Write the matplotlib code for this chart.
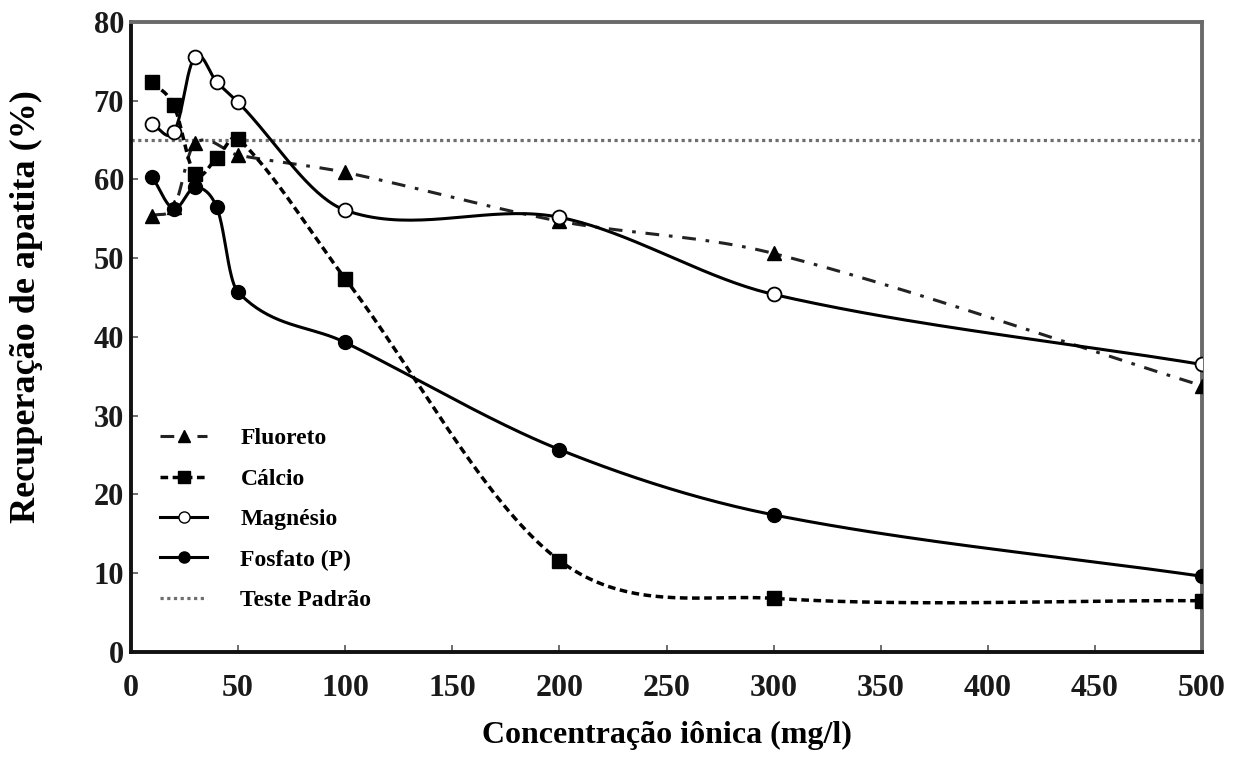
import numpy as np
import matplotlib
matplotlib.use("Agg")
import matplotlib.pyplot as plt
from matplotlib.lines import Line2D

plt.rcParams['font.family'] = ['Liberation Serif', 'DejaVu Serif']
plt.rcParams['font.weight'] = 'bold'

# ---- data ----
fluor_x = [10, 20, 30, 50, 100, 200, 300, 500]
fluor_y = [55.4, 56.5, 64.6, 63.1, 60.9, 54.7, 50.6, 33.8]

calc_x = [10, 20, 30, 40, 50, 100, 200, 300, 500]
calc_y = [72.4, 69.4, 60.7, 62.7, 65.2, 47.4, 11.6, 6.8, 6.5]

mag_x = [10, 20, 30, 40, 50, 100, 200, 300, 500]
mag_y = [67.0, 66.0, 75.6, 72.4, 69.8, 56.1, 55.2, 45.4, 36.5]

fosf_x = [10, 20, 30, 40, 50, 100, 200, 300, 500]
fosf_y = [60.3, 56.3, 59.0, 56.5, 45.7, 39.3, 25.7, 17.4, 9.6]

padrao_y = 65

x_ticks = [0, 50, 100, 150, 200, 250, 300, 350, 400, 450, 500]
y_ticks = [0, 10, 20, 30, 40, 50, 60, 70, 80]

series_names = ["Fluoreto", "Cálcio", "Magnésio", "Fosfato (P)", "Teste Padrão"]
x_label = "Concentração iônica (mg/l)"
y_label = "Recuperação de apatita (%)"


def smooth(xs, ys, n=40, tension=0.5):
    """Catmull-Rom style smoothing (like spreadsheet smoothed lines)."""
    xs = np.asarray(xs, float)
    ys = np.asarray(ys, float)
    px = np.concatenate([[2 * xs[0] - xs[1]], xs, [2 * xs[-1] - xs[-2]]])
    py = np.concatenate([[2 * ys[0] - ys[1]], ys, [2 * ys[-1] - ys[-2]]])
    out_x, out_y = [], []
    for i in range(1, len(px) - 2):
        p0 = np.array([px[i - 1], py[i - 1]])
        p1 = np.array([px[i], py[i]])
        p2 = np.array([px[i + 1], py[i + 1]])
        p3 = np.array([px[i + 2], py[i + 2]])
        d1 = np.linalg.norm(p2 - p1)
        m1 = (p2 - p0)
        m2 = (p3 - p1)
        n1 = np.linalg.norm(m1) or 1
        n2 = np.linalg.norm(m2) or 1
        c1 = p1 + m1 / n1 * d1 * tension * 0.66
        c2 = p2 - m2 / n2 * d1 * tension * 0.66
        t = np.linspace(0, 1, n)[:, None]
        b = ((1 - t) ** 3) * p1 + 3 * ((1 - t) ** 2) * t * c1 + 3 * (1 - t) * t ** 2 * c2 + t ** 3 * p2
        if i > 1:
            b = b[1:]
        out_x.extend(b[:, 0])
        out_y.extend(b[:, 1])
    return np.array(out_x), np.array(out_y)


fig = plt.figure(figsize=(12.47, 7.58), dpi=100)
ax = fig.add_axes([0.105, 0.140, 0.859, 0.831])

# Teste padrão
ax.axhline(padrao_y, color='#6e6e6e', lw=2.3, linestyle=(0, (1, 1.1)), zorder=1)

lw = 2.2
fl_style = (0, (4.5, 3.2, 1.2, 3.2))
ca_style = (0, (2.2, 1.3))

# Fluoreto
sx, sy = smooth(fluor_x, fluor_y)
ax.plot(sx, sy, color='#222222', lw=lw, linestyle=fl_style, zorder=2)
ax.plot(fluor_x, fluor_y, linestyle='none', marker='^', ms=10, color='black', zorder=4)

# Cálcio
sx, sy = smooth(calc_x, calc_y)
ax.plot(sx, sy, color='black', lw=lw + 0.3, linestyle=ca_style, zorder=2)
ax.plot(calc_x, calc_y, linestyle='none', marker='s', ms=10, color='black', zorder=4)

# Magnésio
sx, sy = smooth(mag_x, mag_y)
ax.plot(sx, sy, color='black', lw=lw, zorder=3)
ax.plot(mag_x, mag_y, linestyle='none', marker='o', ms=10, mfc='white', mec='black', mew=1.3, zorder=5)

# Fosfato
sx, sy = smooth(fosf_x, fosf_y)
ax.plot(sx, sy, color='black', lw=lw, zorder=3)
ax.plot(fosf_x, fosf_y, linestyle='none', marker='o', ms=10, color='black', zorder=5)

ax.set_xlim(0, 500)
ax.set_ylim(0, 80)
ax.set_xticks(x_ticks)
ax.set_yticks(y_ticks)
ax.tick_params(direction='in', length=5, width=1.2, colors='#555555')
ax.tick_params(axis='x', pad=16, labelsize=23, labelcolor='#1a1a1a')
ax.tick_params(axis='y', pad=5, labelsize=22, labelcolor='#1a1a1a')
for lab in ax.get_xticklabels() + ax.get_yticklabels():
    lab.set_fontweight('bold')

for side in ['left', 'bottom']:
    ax.spines[side].set_color('#111111')
    ax.spines[side].set_linewidth(2.8)
for side in ['top', 'right']:
    ax.spines[side].set_color('#6a6a6a')
    ax.spines[side].set_linewidth(2.8)

ax.set_xlabel(x_label, fontsize=23, fontweight='bold')
ax.xaxis.set_label_coords(0.5, -0.11)
ax.set_ylabel(y_label, fontsize=26, fontweight='bold')
ax.yaxis.set_label_coords(-0.082, 0.549)

handles = [
    Line2D([], [], color='#222222', lw=lw, linestyle=fl_style, marker='^', ms=8, mfc='black', mec='black'),
    Line2D([], [], color='black', lw=lw + 0.3, linestyle=ca_style, marker='s', ms=8, mfc='black', mec='black'),
    Line2D([], [], color='black', lw=lw, marker='o', ms=8, mfc='white', mec='black'),
    Line2D([], [], color='black', lw=lw, marker='o', ms=8, mfc='black', mec='black'),
    Line2D([], [], color='#6e6e6e', lw=2.3, linestyle=(0, (1, 1.1))),
]
leg = ax.legend(handles, series_names, loc='upper left', bbox_to_anchor=(0.014, 0.378),
                frameon=False, prop={'size': 17, 'weight': 'bold'},
                handlelength=2.0, handletextpad=1.4, labelspacing=0.8,
                borderaxespad=0.2)

fig.savefig('out.png', dpi=100)
